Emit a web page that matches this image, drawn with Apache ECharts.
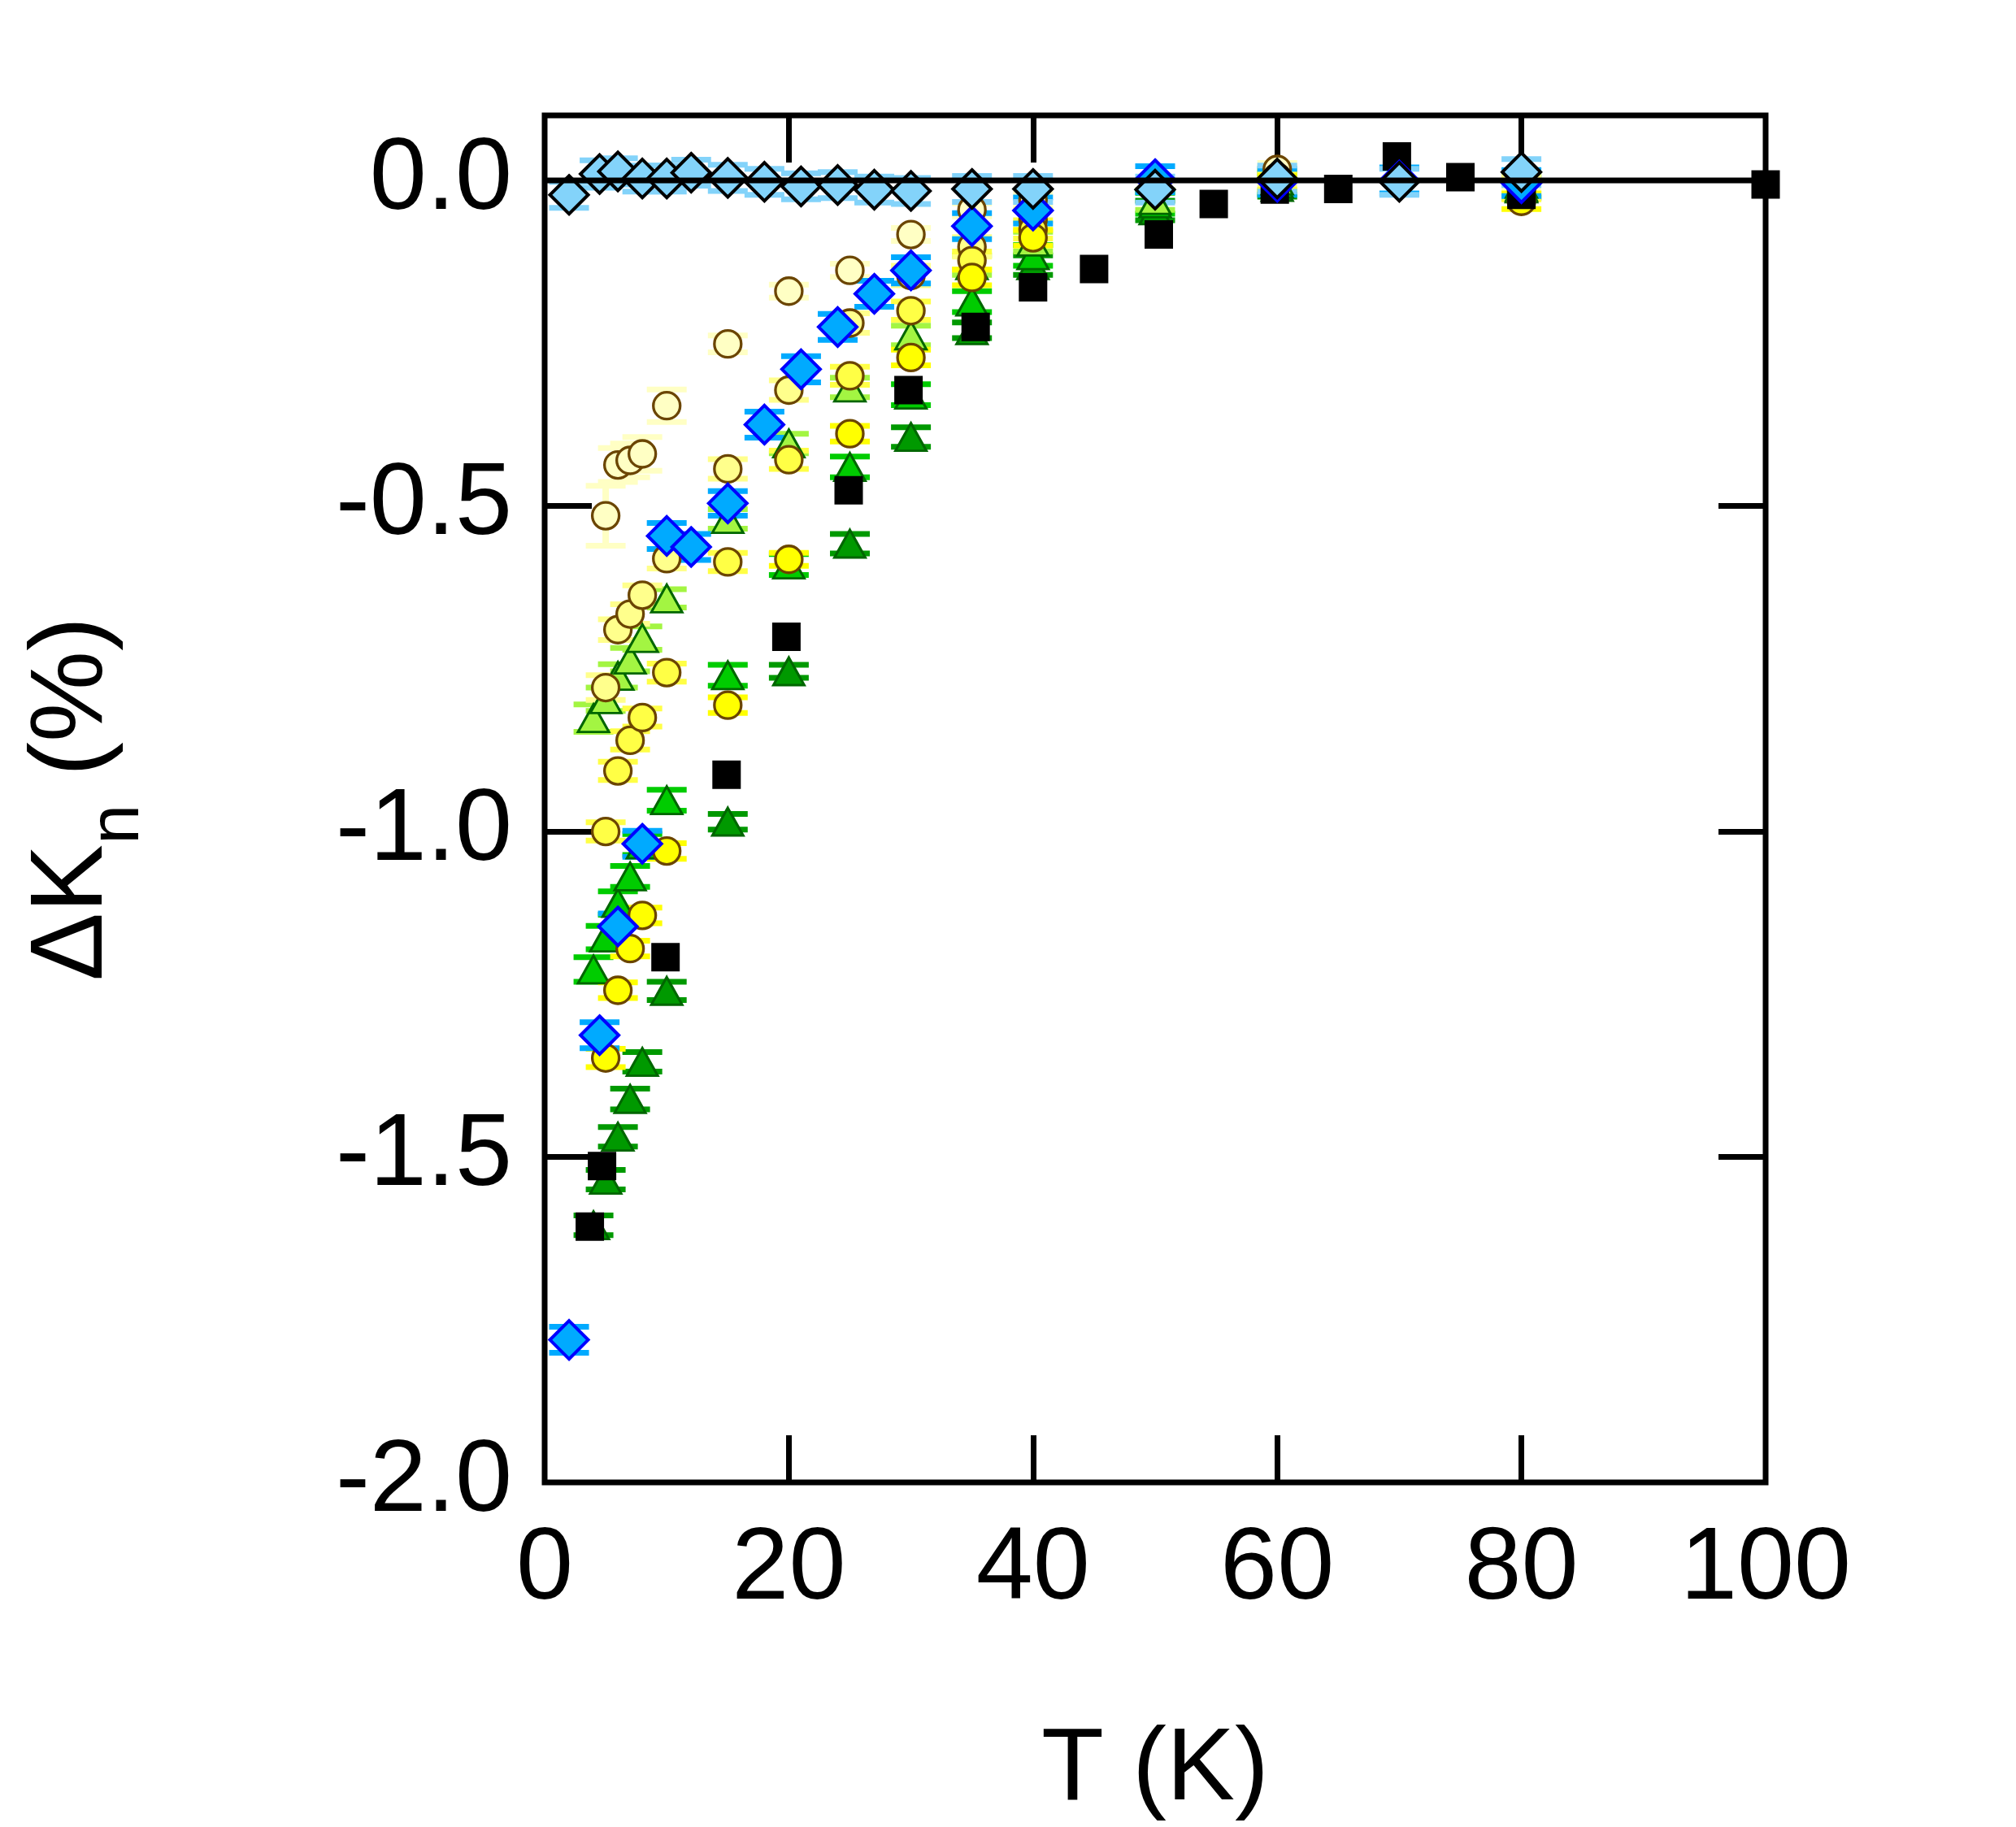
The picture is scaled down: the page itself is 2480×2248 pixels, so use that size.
<!DOCTYPE html>
<html>
<head>
<meta charset="utf-8">
<script src="https://cdn.jsdelivr.net/npm/echarts@6/dist/echarts.min.js"></script>
<style>
html,body{margin:0;padding:0;background:#ffffff;}
#chart{width:2480px;height:2248px;}
</style>
</head>
<body>
<div id="chart"></div>
<script>
// ---------- data ----------
const xTickLabels = [0, 20, 40, 60, 80, 100];
const yTickLabels = [-2.0, -1.5, -1.0, -0.5, 0.0];
const zeroLineT = [0, 100];
const zeroLineV = [0, 0];

// black squares
const sqT = [3.7, 4.7, 9.9, 14.9, 19.8, 24.9, 29.8, 35.3, 40, 45, 50.3, 54.8, 59.8, 65, 69.8, 75, 80, 100];
const sqV = [-1.607, -1.514, -1.193, -0.913, -0.701, -0.476, -0.322, -0.225, -0.164, -0.136, -0.083, -0.036, -0.014, -0.013, 0.037, 0.005, -0.022, -0.006];

// light blue diamonds (black outline)
const lbT = [2, 4.5, 6, 8, 10, 12, 15, 18, 21, 24, 27, 30, 35, 40, 50, 60, 70, 80];
const lbV = [-0.022, 0.010, 0.014, 0.003, 0.003, 0.012, 0.004, -0.002, -0.009, -0.007, -0.014, -0.016, -0.013, -0.013, -0.014, 0.003, -0.002, 0.013];
const lbE = [0.020, 0.021, 0.020, 0.020, 0.020, 0.020, 0.020, 0.020, 0.020, 0.020, 0.020, 0.020, 0.020, 0.020, 0.020, 0.020, 0.020, 0.020];

// blue diamonds (blue outline)
const bdT = [2, 4.5, 6, 8, 10, 12, 15, 18, 21, 24, 27, 30, 35, 40, 50, 60, 70, 80];
const bdV = [-1.781, -1.313, -1.146, -1.019, -0.546, -0.563, -0.496, -0.375, -0.290, -0.225, -0.174, -0.138, -0.070, -0.046, 0.002, -0.002, 0.000, -0.004];
const bdE = [0.020, 0.020, 0.020, 0.020, 0.020, 0.020, 0.019, 0.020, 0.020, 0.020, 0.020, 0.020, 0.020, 0.020, 0.020, 0.020, 0.020, 0.020];

// circles (four shades of yellow)
const cT = [5, 6, 7, 8, 10, 15, 20, 25, 30, 35, 40, 60, 80];
const c1V = [-0.515, -0.437, -0.430, -0.420, -0.346, -0.251, -0.170, -0.138, -0.083, -0.045, -0.030, 0.017, -0.005];
const c1E = [0.046, 0.026, 0.026, 0.026, 0.025, 0.013, 0.010, 0.010, 0.010, 0.010, 0.010, 0.010, 0.010];
const c2V = [-0.779, -0.690, -0.666, -0.637, -0.581, -0.443, -0.322, -0.219, -0.146, -0.102, -0.060, 0.005, -0.010];
const c2E = [0.019, 0.016, 0.015, 0.015, 0.015, 0.015, 0.015, 0.015, 0.015, 0.015, 0.015, 0.015, 0.015];
const c3V = [-1.000, -0.907, -0.860, -0.825, -0.756, -0.586, -0.429, -0.300, -0.200, -0.123, -0.075, 0.000, -0.015];
const c3E = [0.014, 0.014, 0.014, 0.014, 0.014, 0.014, 0.014, 0.014, 0.014, 0.014, 0.014, 0.014, 0.014];
const c4V = [-1.348, -1.244, -1.180, -1.129, -1.030, -0.806, -0.582, -0.389, -0.272, -0.149, -0.088, -0.005, -0.032];
const c4E = [0.014, 0.012, 0.012, 0.012, 0.012, 0.012, 0.010, 0.012, 0.012, 0.012, 0.012, 0.012, 0.012];

// triangles (three shades of green)
const tT = [4, 5, 6, 7, 8, 10, 15, 20, 25, 30, 35, 40, 50, 60, 80];
const lgV = [-0.826, -0.797, -0.761, -0.736, -0.703, -0.642, -0.520, -0.404, -0.318, -0.238, -0.130, -0.094, -0.030, 0.000, -0.005];
const lgE = [0.021, 0.018, 0.018, 0.018, 0.018, 0.014, 0.015, 0.015, 0.015, 0.015, 0.015, 0.015, 0.015, 0.015, 0.015];
const mgV = [-1.212, -1.163, -1.110, -1.069, -1.020, -0.952, -0.760, -0.590, -0.440, -0.329, -0.186, -0.115, -0.035, -0.005, -0.010];
const mgE = [0.019, 0.018, 0.018, 0.016, 0.016, 0.016, 0.016, 0.016, 0.016, 0.016, 0.016, 0.016, 0.016, 0.016, 0.016];
const dgV = [-1.605, -1.535, -1.469, -1.411, -1.354, -1.245, -0.985, -0.754, -0.558, -0.394, -0.230, -0.130, -0.046, -0.010, -0.012];
const dgE = [0.015, 0.015, 0.015, 0.016, 0.015, 0.014, 0.012, 0.010, 0.015, 0.015, 0.012, 0.015, 0.015, 0.015, 0.015];

// ---------- build ----------
const FONT = "'Liberation Sans', Arial, sans-serif";
function pts(T, V, E) { return T.map((t, i) => E ? [t, V[i], E[i]] : [t, V[i]]); }

function errSeries(T, V, E, color) {
  return {
    type: 'custom',
    silent: true,
    data: pts(T, V, E),
    renderItem: function (params, api) {
      const x = api.value(0), y = api.value(1), e = api.value(2);
      const c = api.coord([x, y]);
      const hi = api.coord([x, y + e]);
      const lo = api.coord([x, y - e]);
      const w = 49, h = 7;
      return {
        type: 'group',
        children: [
          { type: 'line', shape: { x1: c[0], y1: hi[1], x2: c[0], y2: lo[1] }, style: { stroke: color, lineWidth: 8 } },
          { type: 'rect', shape: { x: c[0] - w / 2, y: hi[1] - h / 2, width: w, height: h }, style: { fill: color } },
          { type: 'rect', shape: { x: c[0] - w / 2, y: lo[1] - h / 2, width: w, height: h }, style: { fill: color } }
        ]
      };
    }
  };
}
function markSeries(T, V, symbol, size, fill, stroke, bw) {
  return {
    type: 'scatter',
    silent: true,
    data: pts(T, V),
    symbol: symbol,
    symbolSize: size,
    itemStyle: { color: fill, borderColor: stroke, borderWidth: bw, opacity: 1 },
    emphasis: { disabled: true }
  };
}

const BROWN = '#6b4500';
const DKG = '#006600';
const series = [
  { type: 'line', silent: true, data: pts(zeroLineT, zeroLineV), symbol: 'none',
    lineStyle: { color: '#000', width: 7 } },
  errSeries(tT, dgV, dgE, '#009900'),
  markSeries(tT, dgV, 'triangle', [38, 34], '#009900', DKG, 3),
  errSeries(tT, mgV, mgE, '#00cc00'),
  markSeries(tT, mgV, 'triangle', [38, 34], '#00cc00', DKG, 3),
  errSeries(tT, lgV, lgE, '#a3f542'),
  markSeries(tT, lgV, 'triangle', [38, 34], '#a3f542', DKG, 3),
  errSeries(cT, c1V, c1E, '#ffffc4'),
  markSeries(cT, c1V, 'circle', [33, 33], '#ffffc4', BROWN, 3.3),
  errSeries(cT, c2V, c2E, '#ffff8c'),
  markSeries(cT, c2V, 'circle', [33, 33], '#ffff8c', BROWN, 3.3),
  errSeries(cT, c3V, c3E, '#ffff45'),
  markSeries(cT, c3V, 'circle', [33, 33], '#ffff45', BROWN, 3.3),
  errSeries(cT, c4V, c4E, '#ffff00'),
  markSeries(cT, c4V, 'circle', [33, 33], '#ffff00', BROWN, 3.3),
  markSeries(sqT, sqV, 'rect', [35, 35], '#000000', '#000000', 0),
  errSeries(bdT, bdV, bdE, '#00aaff'),
  markSeries(bdT, bdV, 'diamond', [47, 47], '#00aaff', '#0000ff', 4),
  errSeries(lbT, lbV, lbE, '#83d3fa'),
  markSeries(lbT, lbV, 'diamond', [47, 47], '#83d3fa', '#000000', 4)
];

const tickStyle = { color: '#000', width: 7 };
const option = {
  animation: false,
  backgroundColor: '#ffffff',
  grid: { left: 670, top: 142, width: 1502, height: 1682, show: true, borderColor: '#000', borderWidth: 7, backgroundColor: 'transparent' },
  xAxis: [
    { type: 'value', min: 0, max: 100, interval: 20, position: 'bottom',
      axisLine: { show: false, onZero: false },
      axisTick: { show: true, inside: true, length: 58, lineStyle: tickStyle, customValues: [20, 40, 60, 80] },
      axisLabel: { show: true, margin: 45, fontSize: 126, color: '#000', fontFamily: FONT, customValues: xTickLabels },
      splitLine: { show: false },
      name: 'T (K)', nameLocation: 'middle', nameGap: 292,
      nameTextStyle: { fontSize: 126, color: '#000', fontFamily: FONT } },
    { type: 'value', min: 0, max: 100, interval: 20, position: 'top',
      axisLine: { show: false, onZero: false },
      axisTick: { show: true, inside: true, length: 58, lineStyle: tickStyle, customValues: [20, 40, 60, 80] },
      axisLabel: { show: false }, splitLine: { show: false } }
  ],
  yAxis: [
    { type: 'value', min: -2.0, max: 0.1, interval: 0.5, position: 'left',
      axisLine: { show: false, onZero: false },
      axisTick: { show: true, inside: true, length: 58, lineStyle: tickStyle, customValues: [-1.5, -1.0, -0.5] },
      axisLabel: { show: true, margin: 40, fontSize: 126, color: '#000', fontFamily: FONT, customValues: yTickLabels,
        formatter: function (v) { return v.toFixed(1); } },
      splitLine: { show: false },
      name: '{a|ΔK}{b|n}{a| (%)}', nameLocation: 'middle', nameGap: 480,
      nameTextStyle: { color: '#000', fontFamily: FONT,
        rich: {
          a: { fontSize: 126, lineHeight: 200, color: '#000', fontFamily: FONT },
          b: { fontSize: 88, lineHeight: 108, verticalAlign: 'bottom', color: '#000', fontFamily: FONT }
        } } },
    { type: 'value', min: -2.0, max: 0.1, interval: 0.5, position: 'right',
      axisLine: { show: false, onZero: false },
      axisTick: { show: true, inside: true, length: 58, lineStyle: tickStyle, customValues: [-1.5, -1.0, -0.5] },
      axisLabel: { show: false }, splitLine: { show: false } }
  ],
  series: series
};

const chart = echarts.init(document.getElementById('chart'), null, { renderer: 'canvas', width: 2480, height: 2248 });
chart.setOption(option);
</script>
</body>
</html>
